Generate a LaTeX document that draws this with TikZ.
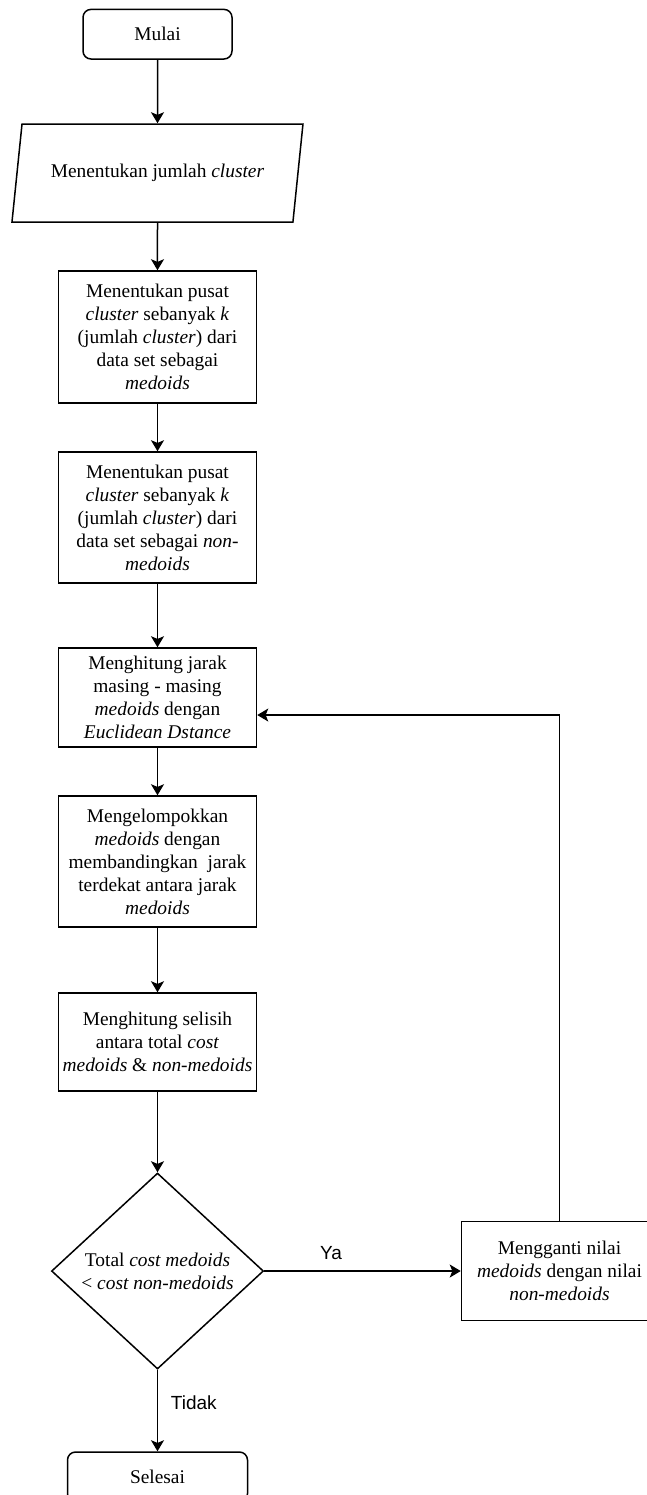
\documentclass[tikz,border=0pt]{standalone}
\usepackage{fontspec}
\setmainfont{Liberation Serif}
\newfontfamily\labelfont{Liberation Sans}
\usetikzlibrary{arrows.meta,positioning,shapes.geometric,calc}
\tikzset{term/.style={draw=black,line width=0.75pt,rounded corners=4pt,align=center,minimum width=74.5pt,minimum height=24.8pt,font=\fontsize{9.7}{11.5}\selectfont},io/.style={draw=black,line width=0.75pt,trapezium,trapezium left angle=72,trapezium right angle=108,trapezium stretches body,minimum width=145.5pt,minimum height=49pt,align=center,font=\fontsize{9.7}{11.5}\selectfont},block/.style={draw=black,line width=0.75pt,align=center,minimum width=99pt,inner sep=1pt,font=\fontsize{9.7}{11.5}\selectfont},decision/.style={draw=black,line width=0.75pt,diamond,inner sep=0pt,minimum width=106pt,minimum height=98pt},dectext/.style={align=center,font=\fontsize{9.7}{11.5}\selectfont},edge/.style={-{Stealth[length=5.5pt,width=6.5pt,inset=1.3pt]},line width=0.75pt,draw=black},lbl/.style={font=\labelfont\fontsize{9.5}{11}\selectfont}}

\begin{document}
\begin{tikzpicture}
\useasboundingbox (0,0) rectangle (323.5pt,-747.5pt);
\clip (0,0) rectangle (323.5pt,-747.5pt);
\node[term] (a) at (78.75pt,-17.1pt) {Mulai};
\node[io,below=31.75pt of a] (b) {Menentukan jumlah \emph{cluster}};
\node[block,minimum height=66pt,below=23.75pt of b] (c) {Menentukan pusat\\\emph{cluster} sebanyak \emph{k}\\(jumlah \emph{cluster}) dari\\data set sebagai\\\emph{medoids}};
\node[block,minimum height=65.5pt,below=23.75pt of c] (d) {Menentukan pusat\\\emph{cluster} sebanyak \emph{k}\\(jumlah \emph{cluster}) dari\\data set sebagai \emph{non-}\\\emph{medoids}};
\node[block,minimum height=49.5pt,below=31.75pt of d] (e) {Menghitung jarak\\masing - masing\\\emph{medoids} dengan\\\emph{Euclidean Dstance}};
\node[block,minimum height=65.5pt,below=23.75pt of e] (f) {Mengelompokkan\\\emph{medoids} dengan\\membandingkan\ \ jarak\\terdekat antara jarak\\\emph{medoids}};
\node[block,minimum height=49pt,below=32.25pt of f] (g) {Menghitung selisih\\antara total \emph{cost}\\\emph{medoids} \& \emph{non-medoids}};
\node[decision,below=40.25pt of g,label={[dectext]center:Total \emph{cost medoids}\\\textless{} \emph{cost non-medoids}}] (h) {};
\node[block,minimum width=98pt,minimum height=49.5pt,right=98.25pt of h] (i) {Mengganti nilai\\\emph{medoids} dengan nilai\\\emph{non-medoids}};
\node[term,minimum width=90pt,below=40.75pt of h] (j) {Selesai};
\draw[edge](a)--(b);\draw[edge](b)--(c);\draw[edge](c)--(d);\draw[edge](d)--(e);
\draw[edge](e)--(f);\draw[edge](f)--(g);\draw[edge](g)--(h);
\draw[edge](h)--node[lbl,above=2pt,pos=0.34]{Ya}(i);
\draw[edge](h)--node[lbl,right=3pt,pos=0.41]{Tidak}(j);
\draw[edge](i.north)|-([yshift=-8.75pt]e.east);
\end{tikzpicture}
\end{document}
